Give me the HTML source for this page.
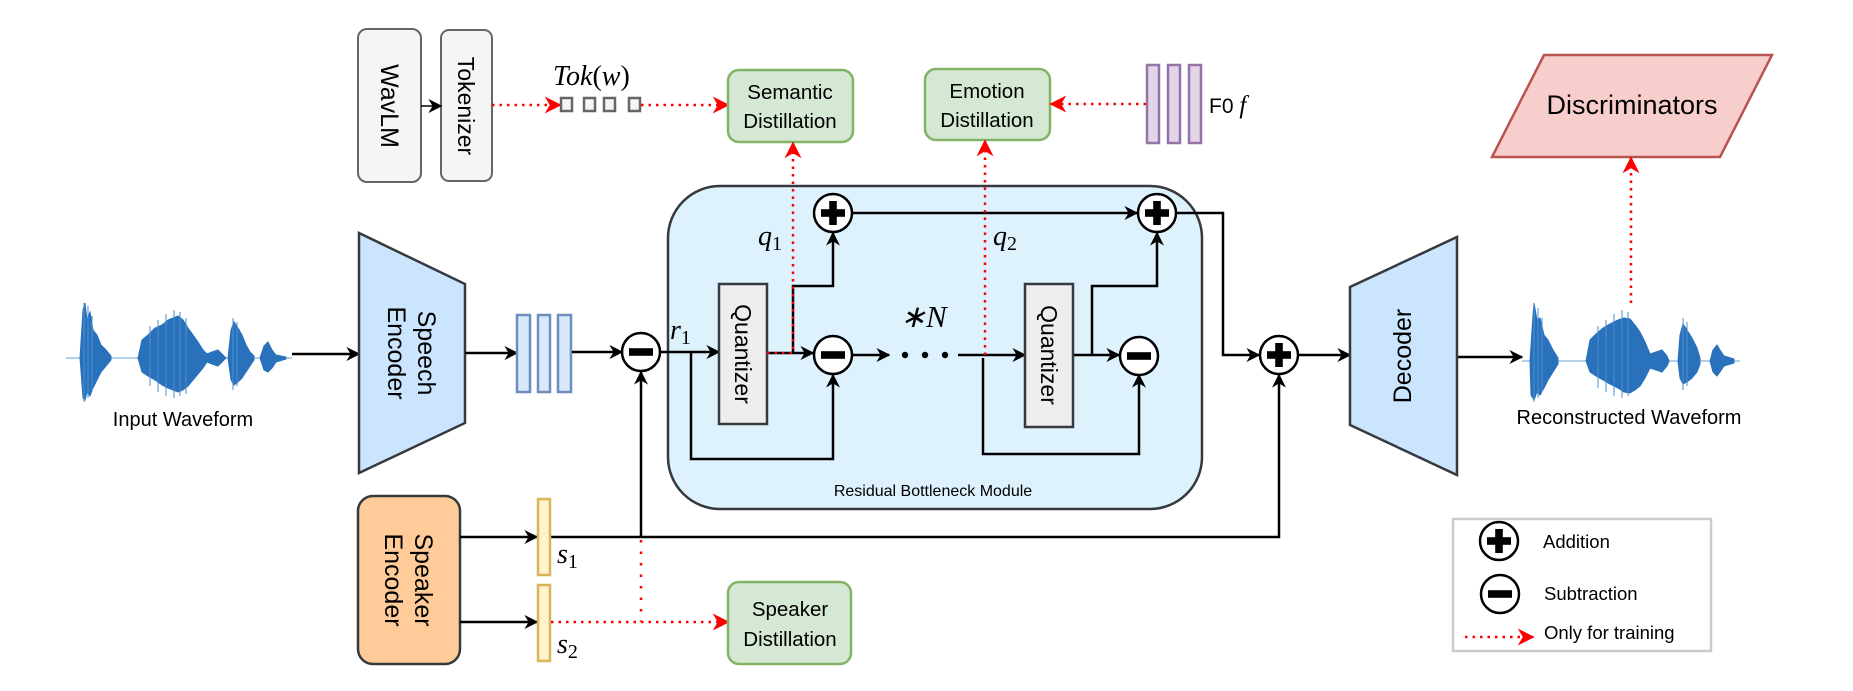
<!DOCTYPE html>
<html><head><meta charset="utf-8"><style>
html,body{margin:0;padding:0;background:#fff;}
svg{display:block;}
text{font-family:"Liberation Sans",Arial,sans-serif;fill:#000;}
.m{font-family:"Liberation Serif",serif;font-style:italic;}
</style></head><body>
<svg width="1853" height="691" viewBox="0 0 1853 691" xmlns="http://www.w3.org/2000/svg">
<defs>
<marker id="ab" viewBox="0 0 10 10" refX="9" refY="5" markerWidth="14" markerHeight="14" markerUnits="userSpaceOnUse" orient="auto"><path d="M0,0 L10,5 L0,10 L3,5 z" fill="#000"/></marker>
<marker id="ar" viewBox="0 0 10 10" refX="9" refY="5" markerWidth="17" markerHeight="17" markerUnits="userSpaceOnUse" orient="auto"><path d="M0,0 L10,5 L0,10 L3,5 z" fill="#f00"/></marker>
<g id="plus"><circle r="19" fill="#fff" stroke="#000" stroke-width="2.5"/><rect x="-12" y="-3.8" width="24" height="7.6" fill="#000"/><rect x="-3.8" y="-12" width="7.6" height="24" fill="#000"/></g>
<g id="minus"><circle r="19" fill="#fff" stroke="#000" stroke-width="2.5"/><rect x="-12" y="-3.8" width="24" height="7.6" fill="#000"/></g>
</defs>

<!-- RBM -->
<rect x="668" y="186" width="534" height="323" rx="52" fill="#ddf2fd" stroke="#36393d" stroke-width="2.5"/>
<text x="933" y="496" font-size="16" text-anchor="middle">Residual Bottleneck Module</text>

<!-- WavLM / Tokenizer -->
<rect x="358" y="29" width="63" height="153" rx="9" fill="#f5f5f5" stroke="#666" stroke-width="2"/>
<text transform="translate(389,106) rotate(90)" font-size="25" text-anchor="middle" dominant-baseline="central" fill="#333">WavLM</text>
<rect x="441" y="30" width="51" height="151" rx="8" fill="#f5f5f5" stroke="#666" stroke-width="2"/>
<text transform="translate(466,106) rotate(90)" font-size="23" text-anchor="middle" dominant-baseline="central" fill="#333">Tokenizer</text>
<line x1="421" y1="106" x2="441" y2="106" stroke="#000" stroke-width="1.5" marker-end="url(#ab)"/>
<text x="553" y="85" font-size="28" class="m">Tok<tspan font-style="normal">(</tspan>w<tspan font-style="normal">)</tspan></text>
<line x1="492" y1="105" x2="560" y2="105" stroke="#f00" stroke-width="2.5" stroke-dasharray="2.5 5" marker-end="url(#ar)"/>
<g fill="#f5f5f5" stroke="#666" stroke-width="2.5">
<rect x="561" y="98" width="11" height="13"/><rect x="584" y="98" width="11" height="13"/><rect x="604" y="98" width="11" height="13"/><rect x="629" y="98" width="11" height="13"/>
</g>
<line x1="641" y1="105" x2="728" y2="105" stroke="#f00" stroke-width="2.5" stroke-dasharray="2.5 5" marker-end="url(#ar)"/>

<!-- Semantic / Emotion -->
<rect x="728" y="70" width="125" height="72" rx="11" fill="#d5e8d4" stroke="#82b366" stroke-width="2.5"/>
<text x="790" y="99" font-size="20.5" text-anchor="middle">Semantic</text>
<text x="790" y="128" font-size="20.5" text-anchor="middle">Distillation</text>
<rect x="925" y="69" width="125" height="71" rx="11" fill="#d5e8d4" stroke="#82b366" stroke-width="2.5"/>
<text x="987" y="98" font-size="20.5" text-anchor="middle">Emotion</text>
<text x="987" y="127" font-size="20.5" text-anchor="middle">Distillation</text>
<g fill="#e1d5e7" stroke="#9673a6" stroke-width="2.5">
<rect x="1147" y="65" width="12" height="78"/><rect x="1168" y="65" width="12" height="78"/><rect x="1189" y="65" width="12" height="78"/>
</g>
<text x="1209" y="113" font-size="21">F0 <tspan class="m" font-size="25">f</tspan></text>
<line x1="1146" y1="104" x2="1051" y2="104" stroke="#f00" stroke-width="2.5" stroke-dasharray="2.5 5" marker-end="url(#ar)"/>

<!-- Discriminators -->
<polygon points="1544,55 1772,55 1720,157 1492,157" fill="#f8cecc" stroke="#b85450" stroke-width="2.5"/>
<text x="1632" y="114" font-size="27" text-anchor="middle">Discriminators</text>
<line x1="1631" y1="303" x2="1631" y2="158" stroke="#f00" stroke-width="2.5" stroke-dasharray="2.5 5" marker-end="url(#ar)"/>

<!-- Input waveform -->
<g fill="#2a71bb" stroke="#2a71bb">
<line x1="66" y1="358" x2="292" y2="358" stroke-width="1" stroke="#6aa3d8"/>
<path d="M80,358 L83,310 L85,303 L87,320 L90,312 L93,330 L97,335 L101,345 L106,350 L111,356 L111,360 L106,366 L101,372 L97,380 L93,388 L90,396 L87,392 L85,400 L83,398 L80,358 z" stroke-width="1"/>
<path d="M138,358 L142,340 L148,335 L155,328 L162,325 L168,320 L173,318 L178,316 L183,320 L188,328 L193,335 L198,342 L203,350 L207,354 L212,352 L218,350 L222,354 L226,358 L222,362 L218,366 L212,364 L207,362 L203,368 L198,374 L193,380 L188,386 L183,390 L178,392 L173,390 L168,388 L162,385 L155,380 L148,376 L142,372 z" stroke-width="1"/>
<path d="M228,358 L231,330 L234,322 L238,328 L242,335 L246,345 L250,352 L254,356 L254,360 L250,366 L246,372 L242,378 L238,382 L234,385 L231,380 z" stroke-width="1"/>
<path d="M260,358 L264,346 L268,342 L272,350 L276,355 L286,357 L286,359 L276,362 L272,368 L268,372 L264,370 z" stroke-width="1"/>
<g stroke="#4a8fd0" stroke-width="1">
<line x1="84" y1="303" x2="84" y2="402"/><line x1="88" y1="306" x2="88" y2="398"/><line x1="92" y1="316" x2="92" y2="392"/>
<line x1="150" y1="326" x2="150" y2="386"/><line x1="158" y1="320" x2="158" y2="392"/><line x1="166" y1="314" x2="166" y2="396"/><line x1="174" y1="310" x2="174" y2="398"/><line x1="180" y1="312" x2="180" y2="396"/><line x1="186" y1="318" x2="186" y2="394"/>
<line x1="233" y1="318" x2="233" y2="390"/><line x1="237" y1="322" x2="237" y2="386"/>
</g>
</g>
<text x="183" y="426" font-size="20" text-anchor="middle">Input Waveform</text>
<line x1="292" y1="354" x2="359" y2="354" stroke="#000" stroke-width="2.5" marker-end="url(#ab)"/>

<!-- Speech Encoder -->
<polygon points="359,233 465,284 465,423 359,473" fill="#cce5ff" stroke="#36393d" stroke-width="2.5"/>
<text transform="translate(412,353) rotate(90)" font-size="25" text-anchor="middle"><tspan x="0" y="-6">Speech</tspan><tspan x="0" y="24">Encoder</tspan></text>
<line x1="465" y1="353" x2="517" y2="353" stroke="#000" stroke-width="2.5" marker-end="url(#ab)"/>
<g fill="#dae8fc" stroke="#6c8ebf" stroke-width="2.5">
<rect x="517" y="315" width="13" height="77"/><rect x="538" y="315" width="12" height="77"/><rect x="558" y="315" width="13" height="77"/>
</g>
<line x1="572" y1="352" x2="622" y2="352" stroke="#000" stroke-width="2.5" marker-end="url(#ab)"/>

<!-- inside RBM lines -->
<g stroke="#000" stroke-width="2.5" fill="none">
<line x1="661" y1="352" x2="719" y2="352" marker-end="url(#ab)"/>
<polyline points="691,352 691,459 833,459 833,375" marker-end="url(#ab)"/>
<line x1="767" y1="353" x2="813" y2="353" marker-end="url(#ab)"/>
<polyline points="793,353 793,286 833,286 833,233" marker-end="url(#ab)"/>
<line x1="852" y1="213" x2="1137" y2="213" marker-end="url(#ab)"/>
<line x1="852" y1="355" x2="889" y2="355" marker-end="url(#ab)"/>
<line x1="958" y1="355" x2="1025" y2="355" marker-end="url(#ab)"/>
<polyline points="983,358 983,454 1139,454 1139,375" marker-end="url(#ab)"/>
<line x1="1073" y1="355" x2="1119" y2="355" marker-end="url(#ab)"/>
<polyline points="1092,355 1092,286 1157,286 1157,233" marker-end="url(#ab)"/>
<polyline points="1176,213 1223,213 1223,355 1259,355" marker-end="url(#ab)"/>
<line x1="1298" y1="355" x2="1350" y2="355" marker-end="url(#ab)"/>
<line x1="1457" y1="357" x2="1522" y2="357" marker-end="url(#ab)"/>
</g>
<g fill="#000"><circle cx="905" cy="355" r="3.2"/><circle cx="925" cy="355" r="3.2"/><circle cx="945" cy="355" r="3.2"/></g>
<text x="900" y="327" font-size="31" class="m">∗N</text>
<text x="670" y="339" font-size="28" class="m">r<tspan font-style="normal" font-size="20" dy="5">1</tspan></text>
<text x="758" y="245" font-size="28" class="m">q<tspan font-style="normal" font-size="20" dy="5">1</tspan></text>
<text x="993" y="245" font-size="28" class="m">q<tspan font-style="normal" font-size="20" dy="5">2</tspan></text>

<!-- Quantizers -->
<rect x="719" y="284" width="48" height="140" fill="#eeeeee" stroke="#36393d" stroke-width="2.5"/>
<text transform="translate(743,354) rotate(90)" font-size="23" text-anchor="middle" dominant-baseline="central">Quantizer</text>
<rect x="1025" y="284" width="48" height="143" fill="#eeeeee" stroke="#36393d" stroke-width="2.5"/>
<text transform="translate(1049,355) rotate(90)" font-size="23" text-anchor="middle" dominant-baseline="central">Quantizer</text>

<!-- red dotted vertical -->
<polyline points="767,353 793,353 793,143" fill="none" stroke="#f00" stroke-width="2.5" stroke-dasharray="2.5 5" marker-end="url(#ar)"/>
<line x1="985" y1="355" x2="985" y2="141" stroke="#f00" stroke-width="2.5" stroke-dasharray="2.5 5" marker-end="url(#ar)"/>

<!-- circles -->
<use href="#minus" x="641" y="352"/>
<use href="#minus" x="833" y="355"/>
<use href="#minus" x="1139" y="356"/>
<use href="#plus" x="833" y="213"/>
<use href="#plus" x="1157" y="213"/>
<use href="#plus" x="1279" y="355"/>

<!-- Decoder -->
<polygon points="1350,287 1457,237 1457,475 1350,425" fill="#cce5ff" stroke="#36393d" stroke-width="2.5"/>
<text transform="translate(1403,356) rotate(-90)" font-size="25" text-anchor="middle" dominant-baseline="central">Decoder</text>

<!-- Reconstructed waveform -->
<g fill="#2a71bb" stroke="#2a71bb">
<line x1="1522" y1="361" x2="1740" y2="361" stroke-width="1" stroke="#6aa3d8"/>
<path d="M1530,361 L1533,315 L1534,303 L1537,320 L1540,318 L1544,335 L1548,340 L1553,350 L1558,358 L1558,364 L1553,372 L1548,380 L1544,388 L1540,395 L1537,392 L1534,400 L1531,395 z" stroke-width="1"/>
<path d="M1586,361 L1590,340 L1596,334 L1603,328 L1610,324 L1618,320 L1624,318 L1630,319 L1635,325 L1640,332 L1645,342 L1650,354 L1656,352 L1662,350 L1667,356 L1669,361 L1667,366 L1662,372 L1656,370 L1650,368 L1645,378 L1640,386 L1635,390 L1630,393 L1624,392 L1618,388 L1610,384 L1603,380 L1596,376 L1590,372 z" stroke-width="1"/>
<path d="M1678,361 L1680,335 L1683,324 L1687,330 L1692,338 L1697,348 L1700,358 L1700,364 L1697,372 L1692,378 L1687,382 L1683,384 L1680,378 z" stroke-width="1"/>
<path d="M1710,361 L1713,350 L1717,345 L1720,350 L1724,356 L1734,359 L1734,363 L1724,366 L1720,372 L1717,376 L1713,372 z" stroke-width="1"/>
<g stroke="#4a8fd0" stroke-width="1">
<line x1="1534" y1="303" x2="1534" y2="402"/><line x1="1538" y1="308" x2="1538" y2="398"/><line x1="1542" y1="318" x2="1542" y2="392"/>
<line x1="1598" y1="326" x2="1598" y2="388"/><line x1="1606" y1="320" x2="1606" y2="392"/><line x1="1614" y1="314" x2="1614" y2="396"/><line x1="1622" y1="310" x2="1622" y2="398"/><line x1="1628" y1="312" x2="1628" y2="396"/>
<line x1="1683" y1="318" x2="1683" y2="390"/><line x1="1687" y1="322" x2="1687" y2="386"/>
</g>
</g>
<text x="1629" y="424" font-size="20" text-anchor="middle">Reconstructed Waveform</text>

<!-- Speaker encoder -->
<rect x="358" y="496" width="102" height="168" rx="15" fill="#ffcc99" stroke="#36393d" stroke-width="2.5"/>
<text transform="translate(409,580) rotate(90)" font-size="25" text-anchor="middle"><tspan x="0" y="-6">Speaker</tspan><tspan x="0" y="24">Encoder</tspan></text>
<g stroke="#000" stroke-width="2.5" fill="none">
<line x1="460" y1="537" x2="537" y2="537" marker-end="url(#ab)"/>
<line x1="460" y1="622" x2="537" y2="622" marker-end="url(#ab)"/>
<polyline points="551,537 1279,537 1279,375" marker-end="url(#ab)"/>
<line x1="641" y1="537" x2="641" y2="372" marker-end="url(#ab)"/>
</g>
<g fill="#fff2cc" stroke="#d6b656" stroke-width="2.5">
<rect x="538" y="499" width="12" height="76"/><rect x="538" y="585" width="12" height="76"/>
</g>
<text x="557" y="563" font-size="28" class="m">s<tspan font-style="normal" font-size="20" dy="5">1</tspan></text>
<text x="557" y="653" font-size="28" class="m">s<tspan font-style="normal" font-size="20" dy="5">2</tspan></text>
<line x1="641" y1="540" x2="641" y2="622" stroke="#f00" stroke-width="2.5" stroke-dasharray="2.5 9"/>
<line x1="551" y1="622" x2="728" y2="622" stroke="#f00" stroke-width="2.5" stroke-dasharray="2.5 5" marker-end="url(#ar)"/>
<rect x="728" y="582" width="123" height="82" rx="11" fill="#d5e8d4" stroke="#82b366" stroke-width="2.5"/>
<text x="790" y="616" font-size="20.5" text-anchor="middle">Speaker</text>
<text x="790" y="646" font-size="20.5" text-anchor="middle">Distillation</text>

<!-- Legend -->
<rect x="1453" y="519" width="258" height="132" fill="#fff" stroke="#ccc" stroke-width="2.5"/>
<use href="#plus" x="1499" y="541"/>
<use href="#minus" x="1500" y="594"/>
<line x1="1465" y1="637" x2="1533" y2="637" stroke="#f00" stroke-width="2.5" stroke-dasharray="2.5 5" marker-end="url(#ar)"/>
<text x="1543" y="548" font-size="18.5">Addition</text>
<text x="1544" y="600" font-size="18.5">Subtraction</text>
<text x="1544" y="639" font-size="18.5">Only for training</text>
</svg>
</body></html>
